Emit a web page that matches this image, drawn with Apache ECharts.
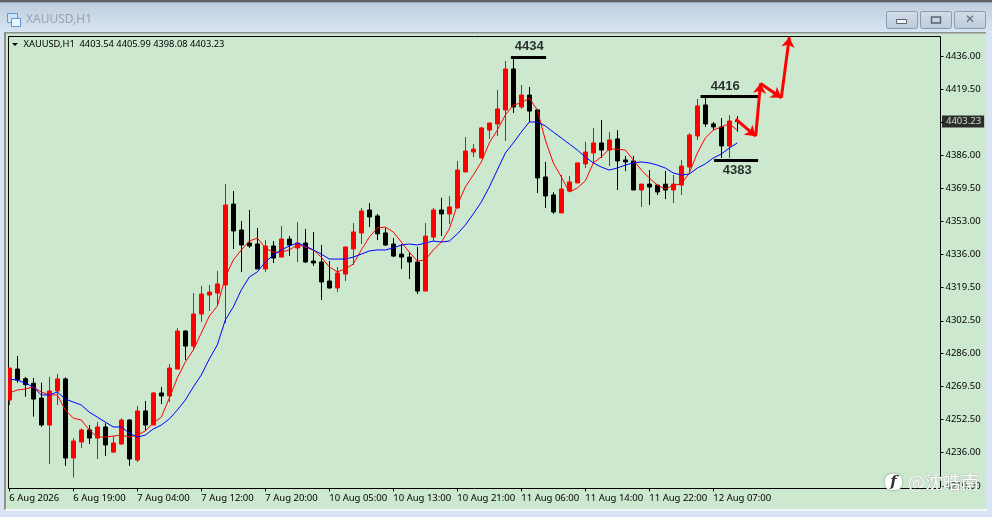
<!DOCTYPE html>
<html><head><meta charset="utf-8">
<style>html,body{margin:0;padding:0;background:#d8e4f3}#c{width:992px;height:517px}</style>
<script src="https://cdn.jsdelivr.net/npm/echarts@6/dist/echarts.min.js"></script>
</head><body><div id="c"></div>
<script>
const symbolTitle = 'XAUUSD,H1';
const quoteLine = 'XAUUSD,H1  4403.54 4405.99 4398.08 4403.23';
const lastPrice = 4403.23;
const xTickBars = [0,8,16,24,32,40,48,56,64,72,80,88];
const xTickLabels = ['6 Aug 2026','6 Aug 19:00','7 Aug 04:00','7 Aug 12:00','7 Aug 20:00','10 Aug 05:00','10 Aug 13:00','10 Aug 21:00','11 Aug 06:00','11 Aug 14:00','11 Aug 22:00','12 Aug 07:00'];
const yTicks = [4436,4419.5,4403,4386,4369.5,4353,4336,4319.5,4302.5,4286,4269.5,4252.5,4236,4219];
// open, close, low, high per bar
const candles = [
[4262.4,4278.6,4259.9,4278.6],[4278.1,4272.5,4271.2,4284.7],[4273.2,4270.2,4264.1,4274.1],[4270.9,4262.9,4254.0,4273.6],
[4263.4,4249.8,4248.9,4271.2],[4249.8,4267.0,4230.1,4274.2],[4267.0,4273.1,4259.9,4275.6],[4273.1,4233.1,4229.1,4273.9],
[4233.1,4241.7,4223.2,4243.1],[4241.2,4247.3,4238.2,4248.1],[4247.3,4243.2,4240.2,4249.8],[4243.2,4248.8,4232.6,4251.3],
[4248.8,4239.7,4234.1,4250.7],[4236.1,4240.7,4235.6,4244.2],[4240.2,4252.3,4239.8,4253.2],[4252.3,4232.6,4229.1,4252.8],
[4232.1,4256.9,4231.1,4259.4],[4256.9,4249.8,4246.9,4261.9],[4249.8,4266.0,4249.8,4266.5],[4266.0,4264.5,4260.4,4269.0],
[4264.5,4278.6,4261.4,4280.6],[4278.1,4297.3,4278.1,4298.8],[4297.3,4289.7,4282.7,4297.8],[4289.7,4305.9,4287.7,4316.5],
[4305.9,4316.0,4301.9,4320.1],[4315.5,4317.0,4307.4,4320.6],[4316.5,4321.1,4310.5,4327.7],[4320.6,4361.0,4301.4,4371.6],
[4361.5,4347.9,4338.8,4368.1],[4348.4,4340.8,4327.2,4352.9],[4341.8,4340.3,4339.3,4358.5],[4341.3,4328.7,4328.7,4349.4],
[4328.7,4340.3,4327.2,4343.3],[4340.3,4334.2,4331.7,4342.8],[4334.7,4343.8,4334.7,4350.4],[4343.8,4340.8,4335.2,4345.3],
[4339.3,4341.8,4332.2,4352.4],[4341.8,4332.2,4331.7,4348.9],[4332.7,4331.7,4330.2,4347.4],[4332.2,4322.1,4313.0,4340.8],
[4322.6,4319.1,4318.6,4332.7],[4319.1,4326.6,4317.0,4329.7],[4326.1,4339.8,4322.6,4339.8],[4338.8,4347.4,4330.7,4351.9],
[4346.9,4358.0,4341.3,4359.5],[4358.5,4355.0,4349.9,4362.0],[4355.5,4346.4,4343.3,4356.5],[4346.9,4340.8,4340.3,4349.4],
[4341.3,4335.2,4334.7,4344.3],[4336.2,4334.7,4328.7,4341.3],[4334.7,4332.2,4323.6,4337.2],[4332.2,4317.5,4316.0,4339.8],
[4317.5,4345.3,4317.5,4351.9],[4344.8,4358.5,4342.8,4359.5],[4358.5,4356.5,4345.3,4364.6],[4356.5,4360.0,4351.4,4365.6],
[4359.5,4378.7,4359.5,4383.3],[4377.7,4388.3,4377.7,4395.4],[4387.8,4389.3,4385.3,4391.9],[4384.8,4400.0,4384.8,4400.5],
[4398.9,4402.5,4394.4,4402.5],[4402.0,4409.6,4395.9,4419.2],[4409.1,4429.8,4393.4,4433.8],[4429.8,4410.6,4407.5,4435.3],
[4410.6,4416.6,4409.6,4421.7],[4416.6,4408.5,4403.0,4420.7],[4409.1,4374.7,4367.1,4409.6],[4375.2,4365.6,4359.5,4382.8],
[4366.1,4357.5,4356.5,4367.6],[4357.0,4369.1,4357.0,4376.2],[4368.1,4372.7,4367.6,4375.7],[4372.2,4382.3,4372.2,4382.3],
[4381.8,4387.8,4379.7,4392.9],[4387.3,4392.4,4382.3,4400.0],[4392.4,4388.8,4384.8,4404.0],[4388.8,4393.9,4380.7,4397.9],
[4394.4,4383.3,4368.6,4398.9],[4383.8,4382.8,4378.2,4385.8],[4383.3,4368.6,4368.6,4385.8],[4368.6,4371.6,4360.0,4371.6],
[4371.6,4370.1,4361.0,4378.7],[4371.1,4367.6,4366.1,4371.1],[4371.6,4368.6,4364.0,4378.2],[4368.6,4371.6,4362.0,4376.2],
[4371.1,4380.7,4366.1,4383.8],[4380.2,4396.4,4377.2,4397.4],[4395.9,4411.1,4393.9,4414.6],[4411.6,4402.0,4400.5,4415.6],
[4402.0,4400.5,4398.9,4403.0],[4400.5,4390.9,4384.8,4405.0],[4390.9,4403.5,4384.8,4406.5],[4403.54,4403.23,4398.08,4405.99]
];
const maFast = [
4266.0,4267.5,4268.0,4269.0,4266.5,4265.0,4265.0,4257.4,4253.3,4252.3,
4247.3,4243.7,4243.7,4244.2,4244.7,4243.7,4244.7,4246.8,4250.8,4253.8,
4263.4,4273.6,4281.6,4287.7,4296.3,4304.9,4309.9,4324.6,4333.2,4338.3,
4342.8,4344.3,4339.3,4337.2,4337.2,4338.3,4340.8,4339.8,4338.3,4334.7,
4329.7,4327.2,4328.7,4331.2,4338.3,4344.8,4349.4,4349.9,4347.4,4342.3,
4337.2,4332.7,4333.2,4338.3,4342.3,4348.9,4361.0,4370.1,4376.2,4382.8,
4392.4,4398.9,4406.5,4411.6,4412.6,4415.1,4409.1,4393.9,4382.3,4375.2,
4367.6,4369.6,4373.2,4382.3,4385.3,4389.3,4389.3,4388.8,4383.8,4378.7,
4374.7,4371.1,4369.1,4371.1,4371.6,4377.2,4387.3,4394.9,4398.9,4400.5,
4402.0,4398.9];
const maSlow = [
4273.0,4272.5,4271.0,4269.0,4265.0,4265.0,4266.5,4262.9,4261.4,4259.9,
4256.3,4253.8,4251.3,4248.8,4248.8,4245.7,4243.7,4244.7,4247.8,4249.8,
4252.8,4257.4,4262.4,4269.0,4275.1,4283.2,4290.3,4302.9,4309.5,4318.1,
4324.6,4327.2,4332.2,4335.7,4338.3,4340.3,4341.8,4340.3,4338.3,4336.2,
4333.7,4333.7,4333.7,4334.7,4336.2,4337.8,4338.3,4338.3,4339.3,4340.8,
4341.3,4340.8,4341.8,4342.8,4342.3,4342.8,4346.4,4350.9,4356.5,4362.5,
4370.1,4378.7,4387.3,4392.4,4397.9,4403.0,4403.0,4401.0,4397.9,4394.9,
4391.9,4388.8,4385.3,4382.3,4380.2,4378.7,4379.7,4381.2,4382.3,4382.8,
4382.3,4381.2,4379.7,4377.2,4376.2,4376.7,4379.7,4381.8,4384.8,4386.8,
4389.8,4392.4];
// hand-drawn levels: start bar, end bar, price, label, label bar
const levels = [
 {from:62.7,to:67.1,price:4435.8,text:'4434',at:65,labelPrice:4441},
 {from:86.4,to:93.6,price:4416.1,text:'4416',at:89.5,labelPrice:4421},
 {from:88.1,to:93.6,price:4383.8,text:'4383',at:91,labelPrice:4378.3}
];
// hand-drawn projection path (bar, price)
const arrowPath = [[90.8,4404.4],[93.3,4395.8],[93.9,4422.5],[96.5,4415.2],[97.5,4445.8]];

const RED='#ff0000', BLACK='#000000', GREEN='#cce8cf';
const FONT='"Noto Sans",sans-serif';
const arrowSegments=[];
for(let i=0;i<arrowPath.length-1;i++){arrowSegments.push([{coord:arrowPath[i]},{coord:arrowPath[i+1]}]);}

const chart=echarts.init(document.getElementById('c'),null,{renderer:'canvas',width:992,height:517});
chart.setOption({
 animation:false,
 backgroundColor:'#d8e4f3',
 graphic:[
  {type:'rect',z:-10,shape:{x:0,y:0,width:992,height:33},style:{fill:new echarts.graphic.LinearGradient(0,0,0,1,[{offset:0,color:'#bccbdc'},{offset:1,color:'#d9e5f3'}])}},
  {type:'rect',z:-9,shape:{x:0,y:0,width:992,height:2},style:{fill:'#5f6062'}},
  {type:'rect',z:-9,shape:{x:0,y:2,width:992,height:1},style:{fill:'#9aa5b1'}},
  {type:'rect',z:-8,shape:{x:4,y:32,width:982,height:478},style:{fill:'#8f8f8f'}},
  {type:'rect',z:-7,shape:{x:6,y:33.5,width:980,height:475.5},style:{fill:GREEN}},
  {type:'rect',z:-7,shape:{x:5,y:509,width:982,height:2},style:{fill:'#f4f7fb'}},
  // margin strip: the first bar is cut by the chart's left edge
  {type:'rect',z:30,shape:{x:6,y:37,width:2,height:451},style:{fill:GREEN}},
  // title icon
  {type:'rect',z:-6,shape:{x:7.5,y:13.5,width:10,height:9},style:{fill:'#cfe3f7',stroke:'#5a9ad6',lineWidth:1}},
  {type:'rect',z:-5,shape:{x:11.5,y:18.5,width:9,height:8},style:{fill:'#eef6fd',stroke:'#5a9ad6',lineWidth:1}},
  {type:'text',z:-5,style:{x:26,y:20,text:symbolTitle,font:'12px '+FONT,fill:'#9aa3ad',verticalAlign:'middle'}},
  // window buttons
  ...[886,920,954].map(x=>({type:'rect',z:-5,shape:{x:x+.5,y:11.5,width:31,height:17,r:2},style:{fill:new echarts.graphic.LinearGradient(0,0,0,1,[{offset:0,color:'#d4deea'},{offset:1,color:'#bccadb'}]),stroke:'#8a9bb2',lineWidth:1}})),
  {type:'rect',z:-4,shape:{x:896.5,y:19.5,width:10,height:4},style:{fill:'#f2f4f7',stroke:'#5d6670',lineWidth:1}},
  {type:'rect',z:-4,shape:{x:931.5,y:17,width:9,height:6},style:{fill:'none',stroke:'#5d6670',lineWidth:1.5}},
  {type:'text',z:-4,style:{x:970,y:19.5,text:'✕',font:'bold 12px "DejaVu Sans"',fill:'#5d6670',align:'center',verticalAlign:'middle'}},
  // quote line
  {type:'polygon',z:20,shape:{points:[[12,43],[18,43],[15,46]]},style:{fill:'#000'}},
  {type:'text',z:20,style:{x:23.5,y:44.5,text:quoteLine,font:'9.3px '+FONT,fill:'#000',verticalAlign:'middle'}},
  // watermark
  {type:'rect',z:50,shape:{x:885,y:474,width:17,height:16,r:6},style:{fill:'#fff',shadowBlur:2,shadowColor:'#777'}},
  {type:'text',z:51,style:{x:893.5,y:482,text:'f',font:'italic bold 15px "DejaVu Serif"',fill:'#333',align:'center',verticalAlign:'middle'}},
  {type:'text',z:50,style:{x:908,y:482,text:'@沈皓南',font:'18px "Noto Sans CJK SC"',fill:'#fff',stroke:'#9a9a9a',lineWidth:0.5,verticalAlign:'middle',shadowBlur:2,shadowColor:'#555'}}
 ],
 grid:{left:8.5,top:36.5,width:932,height:452,show:true,backgroundColor:'transparent',borderColor:BLACK,borderWidth:1},
 xAxis:{type:'value',min:-0.1,max:116.4,splitLine:{show:false},axisLine:{show:false,onZero:false},
  axisTick:{show:true,length:3,lineStyle:{color:BLACK},customValues:xTickBars},
  axisLabel:{show:true,customValues:xTickBars,align:'left',margin:5,color:BLACK,fontFamily:FONT,fontSize:9.5,
   formatter:v=>xTickLabels[xTickBars.indexOf(v)]||''}},
 yAxis:{type:'value',position:'right',min:4217.7,max:4446.21,scale:true,splitLine:{show:false},axisLine:{show:false,onZero:false},
  axisTick:{show:true,length:3,lineStyle:{color:BLACK},customValues:yTicks},
  axisLabel:{show:true,customValues:yTicks.filter(v=>v!==4403),margin:5,padding:[2,0,0,0],color:BLACK,fontFamily:FONT,fontSize:9.5,
   formatter:v=>v.toFixed(2)}},
 series:[
  {type:'candlestick',name:'XAUUSD',barWidth:4,clip:true,
   data:candles.map((c,i)=>[i,c[0],c[1],c[2],c[3]]),
   encode:{x:0,y:[1,2,3,4]},
   itemStyle:{color:RED,color0:BLACK,borderColor:RED,borderColor0:BLACK,borderWidth:1}},
  {type:'line',name:'MA fast',data:maFast.map((v,i)=>[i,v]),showSymbol:false,symbol:'none',lineStyle:{color:RED,width:1},z:5},
  {type:'line',name:'MA slow',data:maSlow.map((v,i)=>[i,v]),showSymbol:false,symbol:'none',lineStyle:{color:'#0000ff',width:1},z:5},
  {type:'line',name:'Levels',data:[],z:6,markLine:{silent:true,symbol:'none',label:{show:false},animation:false,
    lineStyle:{color:BLACK,width:3,type:'solid'},
    data:levels.map(l=>[{coord:[l.from,l.price]},{coord:[l.to,l.price]}])}},
  {type:'line',name:'Projection',data:[],z:7,markLine:{silent:true,symbol:['none','arrow'],symbolSize:10,label:{show:false},animation:false,
    lineStyle:{color:RED,width:3,type:'solid'},data:arrowSegments}},
  {type:'scatter',name:'Level labels',symbol:'circle',symbolSize:1,itemStyle:{color:'transparent'},z:8,data:levels.map(l=>({value:[l.at,l.labelPrice],text:l.text})),
    label:{show:true,position:'inside',formatter:p=>p.data.text,color:BLACK,fontFamily:'"Liberation Sans"',fontWeight:'bold',fontSize:13}},
  {type:'scatter',name:'Last price',symbol:'circle',symbolSize:1,itemStyle:{color:'transparent'},z:9,clip:false,data:[[116.4,lastPrice]],
    label:{show:true,position:'right',distance:1,formatter:()=>lastPrice.toFixed(2),color:'#fff',backgroundColor:'#000',padding:[1,3,1,4],fontFamily:FONT,fontSize:9.5}}
 ]
});
</script></body></html>
